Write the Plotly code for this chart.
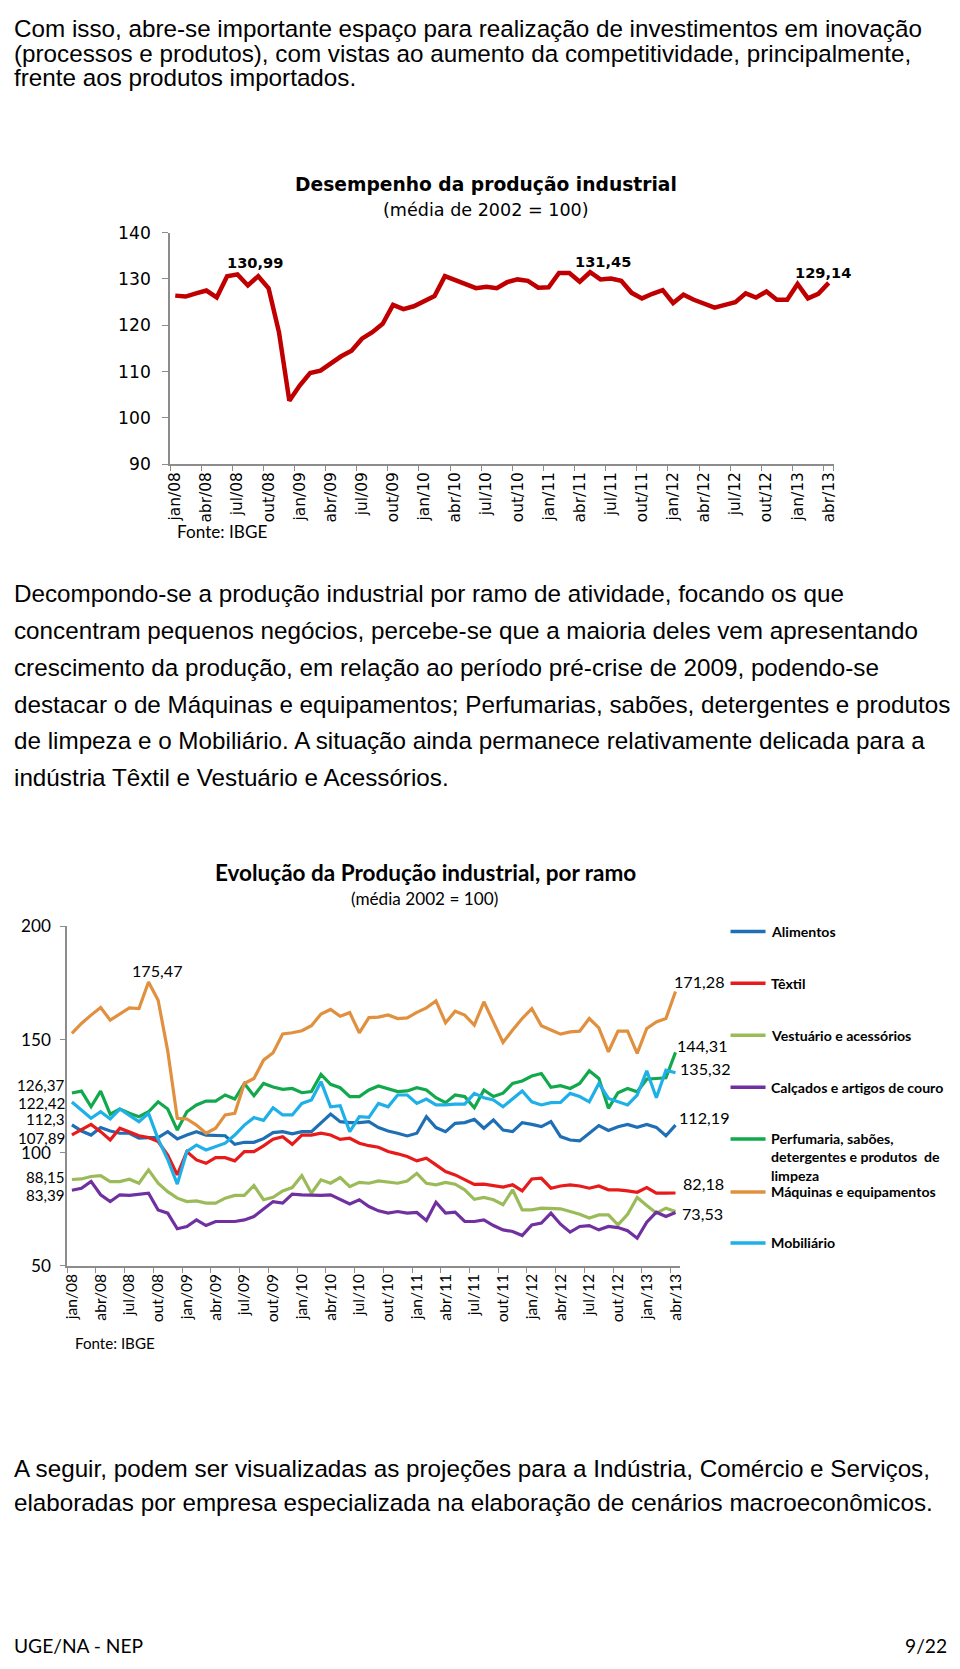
import plotly.graph_objects as go

# the page body keeps an 8px margin, so the figure is 16px smaller than the window
PAGE_W, PAGE_H = 960, 1669
OFF = 8
W, H = PAGE_W - 2 * OFF, PAGE_H - 2 * OFF
# the photographed page comes out slightly shrunk and centred; undo that
SX, SY, CX, CY = 0.990, 0.989, 4.9, 9.1
FS = 1.01

# month categories jan/08 .. abr/13
meses = ["jan", "fev", "mar", "abr", "mai", "jun", "jul", "ago", "set", "out", "nov", "dez"]
meses_lbl = [f"{m}/{a:02d}" for a in range(8, 14) for m in meses][:64]
tick_lbl = meses_lbl[::3]

# chart 1 - Desempenho da produção industrial
producao = [126.4, 126.2, 126.9, 127.5, 126.0, 130.6, 130.99, 128.6, 130.6, 128.0,
            118.5, 103.7, 107.0, 109.7, 110.2, 111.7, 113.3, 114.5, 117.1, 118.5,
            120.3, 124.4, 123.5, 124.1, 125.3, 126.3, 130.6, 129.8, 128.9, 128.0,
            128.3, 128.0, 129.3, 129.9, 129.6, 128.1, 128.2, 131.3, 131.3, 129.4,
            131.45, 129.9, 130.1, 129.6, 127.0, 125.8, 126.8, 127.6, 124.8, 126.6,
            125.5, 124.6, 123.8, 124.4, 125.0, 126.9, 126.0, 127.3, 125.5, 125.5,
            128.9, 125.8, 126.8, 129.14]

# chart 2 - Evolução da produção industrial, por ramo
alimentos = [112.3, 109.6, 107.8, 111.1, 109.6, 108.6, 108.6, 106.4, 106.7, 106.7,
             109.3, 106.1, 107.8, 109.3, 107.8, 107.5, 107.5, 103.7, 104.6, 104.6,
             106.2, 108.9, 109.3, 108.3, 109.3, 109.3, 113.3, 117.1, 113.7, 113.3,
             113.3, 113.7, 111.1, 109.6, 108.6, 107.4, 108.6, 115.9, 111.1, 109.3,
             113.0, 113.3, 114.7, 110.8, 114.5, 110.0, 109.3, 113.3, 112.5, 111.5,
             113.7, 107.1, 105.6, 105.2, 108.6, 112.0, 109.8, 111.5, 112.5, 111.2,
             112.5, 111.2, 107.5, 112.19]
textil = [107.89, 110.0, 112.5, 109.3, 105.6, 110.8, 109.3, 107.5, 106.7, 104.9,
          99.0, 90.2, 100.5, 96.8, 95.3, 97.8, 97.8, 96.4, 100.5, 100.5,
          103.0, 106.0, 107.1, 103.7, 107.8, 107.8, 108.6, 107.8, 105.9, 106.4,
          104.2, 103.1, 102.4, 100.5, 99.5, 98.3, 96.4, 97.6, 94.6, 91.7,
          90.2, 88.0, 86.0, 86.1, 85.3, 84.8, 85.8, 83.1, 88.4, 88.7,
          84.3, 85.3, 85.8, 85.3, 84.3, 85.3, 83.6, 83.6, 83.1, 82.5,
          84.6, 82.1, 82.1, 82.18]
vestuario = [88.15, 88.4, 89.5, 89.9, 87.2, 87.2, 88.3, 86.5, 92.4, 86.5,
             82.8, 79.9, 78.4, 78.7, 77.7, 77.7, 79.9, 81.1, 81.1, 85.5,
             79.2, 80.3, 83.1, 84.6, 89.9, 82.1, 88.0, 86.5, 89.0, 85.0,
             86.9, 86.5, 87.5, 86.9, 86.5, 87.5, 90.9, 86.5, 85.8, 86.9,
             86.1, 83.6, 79.4, 80.2, 79.2, 77.0, 83.6, 74.7, 74.7, 75.5,
             75.2, 75.2, 74.0, 72.8, 71.1, 72.5, 72.5, 68.1, 72.8, 80.2,
             76.7, 73.3, 75.5, 74.0]
calcados = [83.39, 84.3, 87.3, 81.4, 78.4, 81.4, 81.1, 81.7, 82.1, 74.7,
            73.3, 66.4, 67.4, 70.3, 67.8, 69.6, 69.6, 69.6, 70.3, 71.8,
            75.1, 78.4, 77.7, 81.7, 81.4, 81.1, 81.1, 81.4, 79.2, 77.3,
            79.2, 76.2, 74.3, 73.3, 74.0, 73.3, 73.6, 70.0, 78.1, 73.3,
            73.7, 69.6, 69.6, 70.3, 67.8, 65.9, 65.2, 63.4, 68.1, 68.9,
            73.3, 68.4, 64.9, 67.4, 67.8, 65.9, 67.4, 66.9, 65.5, 62.2,
            69.3, 73.7, 71.8, 73.53]
perfumaria = [126.37, 127.2, 120.3, 127.2, 117.0, 119.3, 117.4, 115.9, 118.1, 122.5,
              119.3, 110.0, 118.1, 121.1, 122.8, 122.8, 125.5, 123.7, 130.6, 125.2,
              130.6, 129.0, 128.0, 128.4, 126.5, 127.0, 134.6, 130.2, 128.7, 124.8,
              124.8, 127.7, 129.5, 128.4, 127.0, 127.3, 128.7, 127.7, 124.3, 122.1,
              125.5, 124.8, 119.9, 127.7, 124.8, 126.3, 130.6, 131.7, 133.9, 135.0,
              128.9, 129.6, 128.4, 130.6, 136.2, 132.8, 119.6, 126.5, 128.4, 126.9,
              132.5, 132.8, 133.1, 144.31]
maquinas = [152.7, 157.1, 160.8, 164.2, 158.6, 161.1, 164.0, 163.7, 175.47, 167.4,
            145.0, 115.2, 114.9, 112.2, 108.6, 110.8, 116.7, 117.4, 130.6, 132.8,
            140.9, 144.2, 152.5, 153.0, 153.9, 156.1, 161.3, 163.3, 160.3, 161.9,
            153.0, 159.7, 159.9, 160.9, 159.3, 159.6, 162.0, 164.0, 167.1, 157.4,
            162.5, 160.8, 156.4, 166.7, 157.8, 148.7, 154.2, 159.3, 163.7, 156.1,
            154.2, 152.4, 153.4, 153.7, 159.3, 155.2, 144.6, 153.7, 153.7, 143.9,
            154.9, 157.8, 159.3, 171.28]
mobiliario = [122.42, 118.9, 115.2, 118.1, 114.9, 119.3, 116.7, 113.7, 117.4, 106.0,
              97.0, 86.1, 100.5, 103.4, 101.2, 102.7, 104.2, 107.8, 112.2, 115.5,
              114.3, 119.9, 116.7, 116.7, 121.8, 123.3, 131.4, 120.3, 120.8, 109.3,
              115.9, 115.6, 121.8, 120.3, 125.5, 125.5, 121.8, 123.7, 121.1, 121.1,
              121.5, 121.5, 126.2, 124.3, 123.3, 120.3, 123.7, 127.3, 122.5, 121.1,
              122.1, 122.2, 126.2, 124.8, 122.5, 130.6, 124.0, 122.5, 121.1, 125.5,
              136.2, 124.3, 136.5, 135.32]

series_nomes = ["Alimentos", "Têxtil", "Vestuário e acessórios", "Calçados e artigos de couro",
                "Perfumaria, sabões,<br>detergentes e produtos  de<br>limpeza",
                "Máquinas e equipamentos", "Mobiliário"]
series_vals = [alimentos, textil, vestuario, calcados, perfumaria, maquinas, mobiliario]
series_cores = ["#1F6FB5", "#E81B1B", "#9BBB59", "#7030A0", "#12A84C", "#E0903F", "#1FB0E8"]

# page text
par1 = ["Com isso, abre-se importante espaço para realização de investimentos em inovação",
        "(processos e produtos), com vistas ao aumento da competitividade, principalmente,",
        "frente aos produtos importados."]
par2 = ["Decompondo-se a produção industrial por ramo de atividade, focando os que",
        "concentram pequenos negócios, percebe-se que a maioria deles vem apresentando",
        "crescimento da produção, em relação ao período pré-crise de 2009, podendo-se",
        "destacar o de Máquinas e equipamentos; Perfumarias, sabões, detergentes e produtos",
        "de limpeza e o Mobiliário. A situação ainda permanece relativamente delicada para a",
        "indústria Têxtil e Vestuário e Acessórios."]
par3 = ["A seguir, podem ser visualizadas as projeções para a Indústria, Comércio e Serviços,",
        "elaboradas por empresa especializada na elaboração de cenários macroeconômicos."]


# target picture pixel -> paper coordinate
def px(x):
    return min(max(((x - CX) / SX - OFF) / W, 0), 1)


def py(y):
    return min(max(1 - ((y - CY) / SY - OFF) / H, 0), 1)


fig = go.Figure()

fig.add_trace(go.Scatter(x=meses_lbl, y=producao, mode="lines", xaxis="x", yaxis="y",
                         line=dict(color="#C00000", width=4.5), hoverinfo="skip"))

for nome, vals, cor in zip(series_nomes, series_vals, series_cores):
    fig.add_trace(go.Scatter(x=meses_lbl, y=vals, mode="lines", xaxis="x2", yaxis="y2",
                             line=dict(color=cor, width=3.2), hoverinfo="skip"))

axis_gray = "#8C8C8C"
f1 = "DejaVu Sans"
f2 = "Lato"

fig.update_layout(
    width=W, height=H, autosize=False, showlegend=False,
    margin=dict(l=0, r=0, t=0, b=0),
    paper_bgcolor="white", plot_bgcolor="white",
    xaxis=dict(domain=[px(169.8), px(833.3)], anchor="y", type="category",
               range=[-0.5, 63.5], tickmode="array", tickvals=tick_lbl, ticktext=tick_lbl,
               tickangle=-90, tickson="boundaries", ticks="outside", ticklen=5,
               tickcolor=axis_gray, showline=True, linecolor=axis_gray, linewidth=1.5,
               showgrid=False, zeroline=False,
               tickfont=dict(family=f1, size=15.3 * FS, color="black")),
    yaxis=dict(domain=[py(463), py(231)], anchor="x", range=[90, 140], dtick=10,
               ticks="outside", ticklen=6, tickcolor=axis_gray, showline=True,
               linecolor=axis_gray, linewidth=1.5, showgrid=False, zeroline=False,
               ticklabelstandoff=8, tickfont=dict(family=f1, size=17 * FS, color="black")),
    xaxis2=dict(domain=[px(66.9), px(679.8)], anchor="y2", type="category",
                range=[-0.5, 63.5], tickmode="array", tickvals=tick_lbl, ticktext=tick_lbl,
                tickangle=-90, tickson="boundaries", ticks="outside", ticklen=5,
                tickcolor=axis_gray, showline=True, linecolor=axis_gray, linewidth=1.5,
                showgrid=False, zeroline=False,
                tickfont=dict(family=f2, size=15.5 * FS, color="black")),
    yaxis2=dict(domain=[py(1266), py(926)], anchor="x2", range=[50, 200],
                tickvals=[50, 100, 150, 200], ticks="outside", ticklen=5, tickcolor=axis_gray,
                showline=True, linecolor=axis_gray, linewidth=1.5, showgrid=False,
                zeroline=False, ticklabelstandoff=6,
                tickfont=dict(family=f2, size=17 * FS, color="black")),
)

ann = []


def txt(x, y, s, size, family, bold=False, xanchor="left", yanchor="middle"):
    ann.append(dict(x=px(x), y=py(y), xref="paper", yref="paper", text=f"<b>{s}</b>" if bold else s,
                    showarrow=False, xanchor=xanchor, yanchor=yanchor, borderpad=0,
                    font=dict(family=family, size=size * FS, color="black")))


body = "Liberation Sans"
for i, s in enumerate(par1):
    txt(0, 27 + i * 24.5, s, 24, body)
for i, s in enumerate(par2):
    txt(0, 593 + i * 36.8, s, 24, body)
for i, s in enumerate(par3):
    txt(0, 1469 + i * 34, s, 24, body)

txt(0, 1646, "UGE/NA - NEP", 19, f2)
txt(PAGE_W, 1646, "9/22", 19, f2, xanchor="right")

# chart 1 titles
txt(486, 183, "Desempenho da produção industrial", 18.5, f1, bold=True, xanchor="center")
txt(486, 208, "(média de 2002 = 100)", 17.4, f1, xanchor="center")
txt(176, 530, "Fonte: IBGE", 17, f2)

# chart 2 titles
txt(425, 872, "Evolução da Produção industrial, por ramo", 22.3, f2, bold=True, xanchor="center")
txt(424, 898, "(média 2002 = 100)", 17, f2, xanchor="center")
txt(74, 1343, "Fonte: IBGE", 15, f2)


def lbl(xref, yref, i, v, dx, dy, size, family, bold=False, xanchor="center"):
    s = f"{v:.2f}".rstrip("0").replace(".", ",")
    ann.append(dict(x=meses_lbl[i], y=v, xref=xref, yref=yref, text=f"<b>{s}</b>" if bold else s,
                    showarrow=False, xanchor=xanchor, yanchor="middle", xshift=dx, yshift=dy,
                    borderpad=0, font=dict(family=family, size=size * FS, color="black")))


# chart 1 data labels
lbl("x", "y", 6, producao[6], 18, 12, 14.5, f1, bold=True)
lbl("x", "y", 40, producao[40], 13, 11, 14.5, f1, bold=True)
lbl("x", "y", 63, producao[63], -6, 10, 14.5, f1, bold=True)

# chart 2 data labels
lbl("x2", "y2", 8, maquinas[8], 9, 11, 16, f2)
for vals, dy in zip([perfumaria, mobiliario, alimentos, textil, vestuario, calcados],
                    [8, -1, 6, -3, 3, -5]):
    lbl("x2", "y2", 0, vals[0], -6, dy, 15, f2, xanchor="right")
for vals, dx, dy in zip([maquinas, perfumaria, mobiliario, alimentos, textil, calcados],
                        [-3, 0, 3, 2, 6, 5], [10, 7, 4, 8, 10, -1]):
    lbl("x2", "y2", 63, vals[-1], dx, dy, 16, f2, xanchor="left")

# legend of chart 2
leg_y = [931, 983, 1035, 1087, 1139, 1192, 1243]
shapes = []
for nome, cor, ly in zip(series_nomes, series_cores, leg_y):
    shapes.append(dict(type="line", xref="paper", yref="paper", x0=px(730), x1=px(765),
                       y0=py(ly), y1=py(ly), line=dict(color=cor, width=3.5)))
    if "<br>" in nome:
        ann.append(dict(x=px(769), y=py(ly - 10), xref="paper", yref="paper",
                        text=f"<b>{nome}</b>", showarrow=False, xanchor="left", yanchor="top",
                        align="left", borderpad=0, font=dict(family=f2, size=14 * FS, color="black")))
    else:
        txt(769, ly, nome, 14, f2, bold=True)

fig.update_layout(annotations=ann, shapes=shapes)

fig.write_html("out.html")
